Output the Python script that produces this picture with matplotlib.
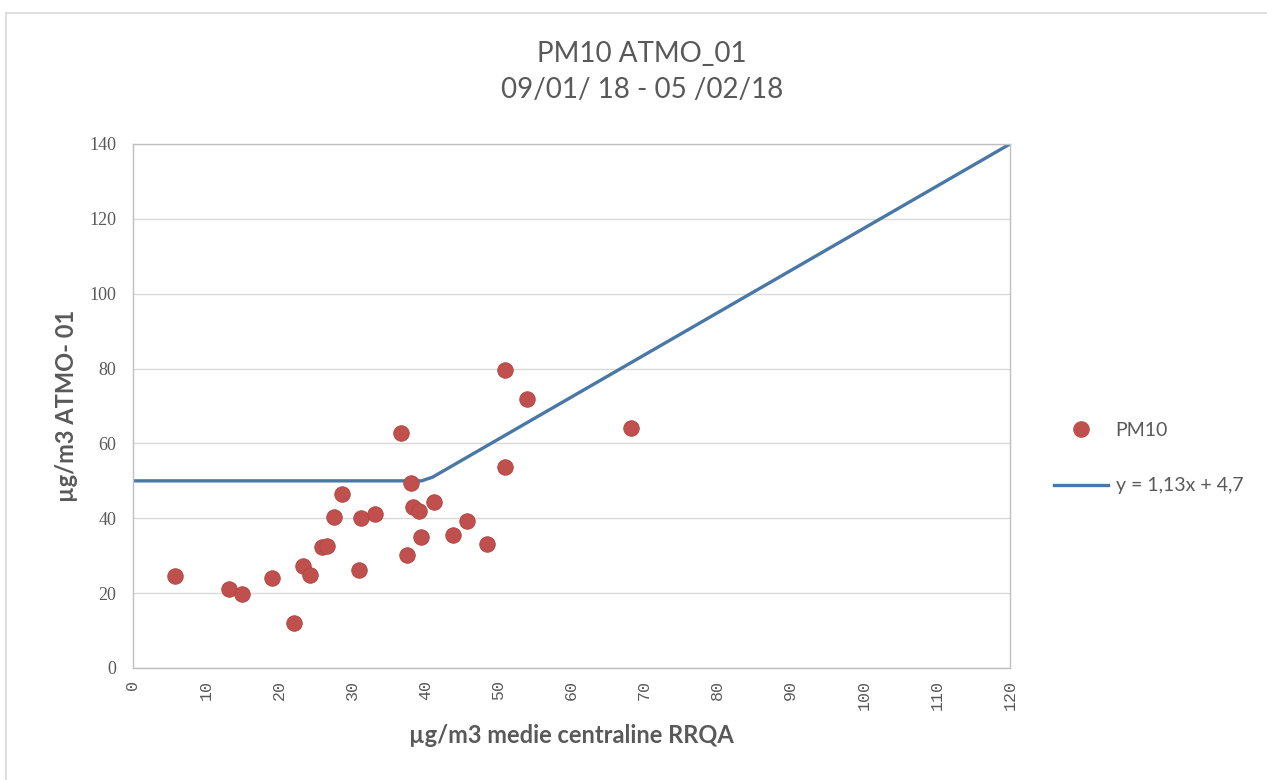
import numpy as np
import matplotlib
matplotlib.use("Agg")
import matplotlib.pyplot as plt
from matplotlib.lines import Line2D

# PM10 points (x = medie centraline RRQA, y = ATMO_01)
pm10_x = [5.7, 13.1, 14.9, 19.0, 22.0, 23.3, 24.2, 25.9, 26.6, 27.5, 28.6,
          30.9, 31.2, 33.1, 36.7, 37.5, 38.0, 38.3, 39.2, 39.4, 41.2, 43.8,
          45.7, 48.4, 50.9, 50.9, 53.9, 68.1]
pm10_y = [24.6, 21.1, 19.8, 24.0, 12.0, 27.3, 24.8, 32.3, 32.6, 40.3, 46.5,
          26.2, 40.1, 41.1, 62.8, 30.2, 49.4, 43.0, 41.9, 35.0, 44.3, 35.5,
          39.3, 33.1, 79.6, 53.7, 71.9, 64.1]

# trend line as drawn: flat at 50, then y = 1,13x + 4,7
trend_x = [0, 39.5, 41, 120]
trend_y = [50, 50, 51, 140]

xticks = list(range(0, 121, 10))
yticks = list(range(0, 141, 20))

title = "PM10 ATMO_01\n09/01/ 18 - 05 /02/18"
xlabel = "µg/m3 medie centraline RRQA"
ylabel = "µg/m3 ATMO- 01"
red = "#c0504d"
blue = "#4a78a6"
grey_txt = "#595959"

W, H = 1267, 780
fig = plt.figure(figsize=(W / 100, H / 100), dpi=100)
ax = fig.add_axes([133 / W, 1 - 668 / H, 877 / W, 524 / H])

ax.plot(trend_x, trend_y, color=blue, lw=2.4, zorder=2)
ax.scatter(pm10_x, pm10_y, s=125, color=red, edgecolors="#b24440",
           linewidths=0.6, zorder=3)

ax.set_xlim(0, 120)
ax.set_ylim(0, 140)
ax.set_xticks(xticks)
ax.set_yticks(yticks)
ax.set_xticklabels([str(t) for t in xticks], rotation=90,
                   family="Liberation Mono", fontsize=12, color=grey_txt)
ax.set_yticklabels([str(t) for t in yticks],
                   family="Liberation Serif", fontsize=13, color=grey_txt)
ax.tick_params(length=0)
ax.tick_params(axis="x", pad=9)
ax.tick_params(axis="y", pad=12)
ax.grid(axis="y", color="#d9d9d9", lw=1)
ax.set_axisbelow(True)
for sp in ax.spines.values():
    sp.set_color("#c0c0c0")
    sp.set_linewidth(1)

ax.set_xlabel(xlabel, family="Lato", fontweight="bold", fontsize=17,
              color=grey_txt, labelpad=10)
ax.set_ylabel(ylabel, family="Lato", fontweight="bold", fontsize=17,
              color=grey_txt, labelpad=8)

fig.text(642 / W, 1 - 72 / H, title, ha="center", va="center",
         family="Lato", fontsize=20, color=grey_txt, linespacing=1.45)

handles = [Line2D([], [], ls="", marker="o", markersize=11, color=red),
           Line2D([], [], color=blue, lw=2.4)]
fig.legend(handles, ["PM10", "y = 1,13x + 4,7"], loc="center left",
           bbox_to_anchor=(1036 / W, 1 - 458 / H), frameon=False,
           handlelength=2.8, handletextpad=0.4, labelspacing=2.0,
           prop={"family": "Lato", "size": 14}, labelcolor=grey_txt)

# outer chart frame (left and top edges visible)
fig.add_artist(Line2D([6 / W, 6 / W], [0, 1 - 13 / H], color="#d9d9d9", lw=1.2,
                      transform=fig.transFigure))
fig.add_artist(Line2D([6 / W, 1], [1 - 13 / H, 1 - 13 / H], color="#d9d9d9",
                      lw=1.2, transform=fig.transFigure))

fig.savefig("out.png", dpi=100, facecolor="white")
